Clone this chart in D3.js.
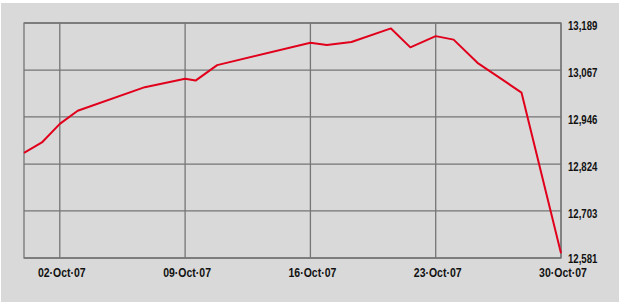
<!DOCTYPE html>
<html>
<head>
<meta charset="utf-8">
<script src="https://cdn.jsdelivr.net/npm/d3@7/dist/d3.min.js"></script>
<style>
  html, body { margin: 0; padding: 0; background: #ffffff; }
  svg { display: block; }
  text { font-family: "Liberation Sans", Arial, sans-serif; font-weight: bold; fill: #111; }
</style>
</head>
<body>
<svg id="chart" width="624" height="304"></svg>
<script>
// ---- data ----
const dates = [
  "2007-09-30T00:00", "2007-10-01T00:00", "2007-10-02T00:00", "2007-10-03T00:00",
  "2007-10-06T18:00", "2007-10-09T00:00", "2007-10-09T14:00", "2007-10-10T19:00",
  "2007-10-16T00:00", "2007-10-16T22:00", "2007-10-18T07:00", "2007-10-20T12:00",
  "2007-10-21T14:00", "2007-10-23T00:00", "2007-10-24T00:00", "2007-10-25T08:00",
  "2007-10-27T19:00", "2007-10-30T00:00"
];
const values = [
  12853, 12880, 12928, 12962,
  13023, 13045, 13040, 13080,
  13138, 13132, 13140, 13175,
  13126, 13155, 13146, 13086,
  13009, 12593
];
const xTickDates = ["2007-10-02", "2007-10-09", "2007-10-16", "2007-10-23", "2007-10-30"];
const xTickLabels = ["02\u00b7Oct\u00b707", "09\u00b7Oct\u00b707", "16\u00b7Oct\u00b707", "23\u00b7Oct\u00b707", "30\u00b7Oct\u00b707"];
const yTicks = [12581, 12703, 12824, 12946, 13067, 13189];
const yTickLabels = ["12,581", "12,703", "12,824", "12,946", "13,067", "13,189"];
const xDomain = ["2007-09-30T00:00", "2007-10-30T00:00"];

// ---- layout ----
const svg = d3.select("#chart");
const plot = { left: 24, right: 561, top: 23, bottom: 258 };
const parse = d3.isoParse;

svg.append("rect")
  .attr("x", 1).attr("y", 3).attr("width", 618).attr("height", 299)
  .attr("fill", "#d9d9d9");

const x = d3.scaleTime()
  .domain(xDomain.map(parse))
  .range([plot.left, plot.right]);
const y = d3.scaleLinear()
  .domain([yTicks[0], yTicks[yTicks.length - 1]])
  .range([plot.bottom, plot.top]);

const gridColor = "#757575";

// horizontal gridlines
svg.append("g").selectAll("line").data(yTicks).join("line")
  .attr("x1", plot.left).attr("x2", plot.right)
  .attr("y1", d => y(d)).attr("y2", d => y(d))
  .attr("stroke", gridColor).attr("stroke-width", 1.3);

// vertical gridlines
svg.append("g").selectAll("line").data(xTickDates).join("line")
  .attr("x1", d => x(parse(d))).attr("x2", d => x(parse(d)))
  .attr("y1", plot.top).attr("y2", plot.bottom)
  .attr("stroke", gridColor).attr("stroke-width", 1.3);

// frame
svg.append("rect")
  .attr("x", plot.left).attr("y", plot.top)
  .attr("width", plot.right - plot.left).attr("height", plot.bottom - plot.top)
  .attr("fill", "none").attr("stroke", gridColor).attr("stroke-width", 1.3);

// x labels (condensed look via horizontal scaling)
svg.append("g").selectAll("text").data(xTickDates).join("text")
  .attr("transform", d => `translate(${x(parse(d)) + 2},276.5) scale(0.84,1)`)
  .attr("text-anchor", "middle")
  .attr("font-size", "12.5px")
  .text((d, i) => xTickLabels[i]);

// y labels
svg.append("g").selectAll("text").data(yTicks).join("text")
  .attr("transform", (d, i) => `translate(${plot.right + 7},${y(d) + (i === 0 ? 4.5 : 7)}) scale(0.77,1)`)
  .attr("text-anchor", "start")
  .attr("font-size", "12.5px")
  .text((d, i) => yTickLabels[i]);

// line
const data = dates.map((d, i) => ({ date: parse(d), value: values[i] }));
svg.append("path")
  .datum(data)
  .attr("fill", "none")
  .attr("stroke", "#e1001c")
  .attr("stroke-width", 2)
  .attr("stroke-linejoin", "round")
  .attr("d", d3.line().x(d => x(d.date)).y(d => y(d.value)));
</script>
</body>
</html>
